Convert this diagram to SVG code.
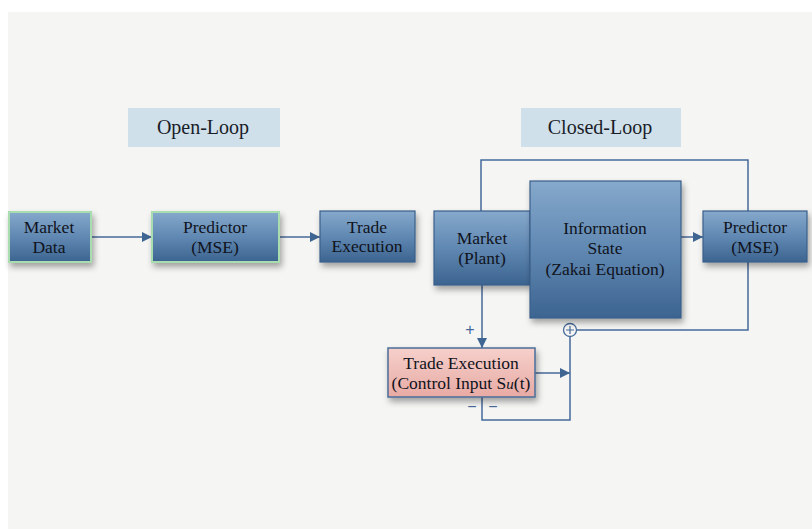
<svg xmlns="http://www.w3.org/2000/svg" width="812" height="529" viewBox="0 0 812 529">
<defs>
<linearGradient id="gBlue" x1="0" y1="0" x2="0" y2="1">
<stop offset="0" stop-color="#86a9cc"/>
<stop offset="0.5" stop-color="#6088b2"/>
<stop offset="1" stop-color="#3c6490"/>
</linearGradient>
<linearGradient id="gPink" x1="0" y1="0" x2="0" y2="1">
<stop offset="0" stop-color="#f6d0cb"/>
<stop offset="1" stop-color="#e8aaa4"/>
</linearGradient>
<filter id="sh" x="-20%" y="-20%" width="150%" height="150%">
<feDropShadow dx="2" dy="4" stdDeviation="3" flood-color="#000" flood-opacity="0.35"/>
</filter>
<marker id="arr" viewBox="0 0 10 10" refX="10" refY="5" markerWidth="10" markerHeight="10" markerUnits="userSpaceOnUse" orient="auto">
<path d="M0,0 L10,5 L0,10 z" fill="#3f6592"/>
</marker>
<style>
.box{fill:url(#gBlue);stroke:#3a5f8a;stroke-width:1.2;filter:url(#sh)}
.green{stroke:#a9dcae;stroke-width:2}
.pink{fill:url(#gPink);stroke:#4a6d98;stroke-width:1.5;filter:url(#sh)}
.t{font-family:"Liberation Serif","Times New Roman",serif;font-size:17.5px;fill:#101320;text-anchor:middle}
.lbl{font-family:"Liberation Serif","Times New Roman",serif;font-size:20px;fill:#1a1d28;text-anchor:middle}
.ln{fill:none;stroke:#46699a;stroke-width:1.5}
.sign{font-family:"Liberation Sans",Arial,sans-serif;font-size:16px;fill:#46699a;text-anchor:middle}
</style>
</defs>
<rect x="0" y="0" width="812" height="529" fill="#ffffff"/>
<rect x="8" y="12" width="804" height="517" fill="#f5f5f4"/>

<g id="label-open">
<rect x="128" y="108" width="152" height="39" fill="#cfe0eb"/>
<text class="lbl" x="203" y="134">Open-Loop</text>
</g>
<g id="label-closed">
<rect x="521" y="108" width="160" height="39" fill="#cfe0eb"/>
<text class="lbl" x="600" y="134">Closed-Loop</text>
</g>

<g id="connectors">
<line class="ln" x1="91" y1="237" x2="152" y2="237" marker-end="url(#arr)"/>
<line class="ln" x1="279" y1="237" x2="320" y2="237" marker-end="url(#arr)"/>
<line class="ln" x1="681" y1="237" x2="703" y2="237" marker-end="url(#arr)"/>
<polyline class="ln" points="481,211 481,160 748,160 748,211"/>
<polyline class="ln" points="748,262 748,330 577,330"/>
<line class="ln" x1="482" y1="285" x2="482" y2="348" marker-end="url(#arr)"/>
<line class="ln" x1="535" y1="373" x2="570" y2="373" marker-end="url(#arr)"/>
<polyline class="ln" points="482,397 482,420 570,420 570,337"/>
<circle cx="570" cy="330" r="6.5" fill="#f5f5f4" stroke="#46699a" stroke-width="1.3"/>
<path d="M566,330 H574 M570,326 V334" stroke="#46699a" stroke-width="1.2"/>
<text class="sign" x="470" y="335">+</text>
<text class="sign" x="472" y="412">−</text>
<text class="sign" x="493" y="412">−</text>
</g>

<g id="market-data">
<rect class="box green" x="9" y="212" width="82" height="50"/>
<text class="t" x="49" y="233">Market</text>
<text class="t" x="49" y="253">Data</text>
</g>
<g id="predictor-open">
<rect class="box green" x="152" y="212" width="127" height="50"/>
<text class="t" x="215" y="233">Predictor</text>
<text class="t" x="215" y="253">(MSE)</text>
</g>
<g id="trade-exec-open">
<rect class="box" x="320" y="211" width="95" height="51"/>
<text class="t" x="367" y="233">Trade</text>
<text class="t" x="367" y="252">Execution</text>
</g>
<g id="market-plant">
<rect class="box" x="434" y="211" width="96" height="74"/>
<text class="t" x="482" y="244">Market</text>
<text class="t" x="482" y="264">(Plant)</text>
</g>
<g id="info-state">
<rect class="box" x="530" y="181" width="151" height="137"/>
<text class="t" x="605" y="234">Information</text>
<text class="t" x="605" y="254">State</text>
<text class="t" x="605" y="275">(Zakai Equation)</text>
</g>
<g id="predictor-closed">
<rect class="box" x="703" y="211" width="104" height="51"/>
<text class="t" x="755" y="233">Predictor</text>
<text class="t" x="755" y="253">(MSE)</text>
</g>
<g id="trade-exec-closed">
<rect class="pink" x="388" y="348" width="147" height="49"/>
<text class="t" x="461" y="369">Trade Execution</text>
<text class="t" x="461" y="389">(Control Input S<tspan font-style="italic" font-size="15px">u</tspan>(t)</text>
</g>
</svg>
